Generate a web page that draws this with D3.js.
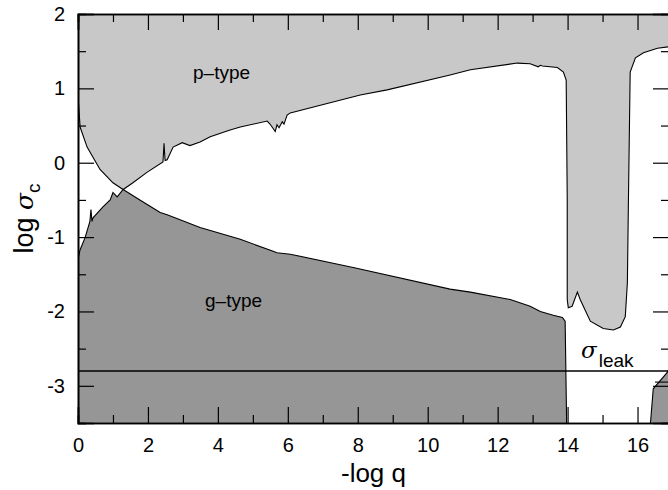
<!DOCTYPE html>
<html>
<head>
<meta charset="utf-8">
<script src="https://cdn.jsdelivr.net/npm/d3@7"></script>
<style>
  body { margin: 0; background: #fff; }
  svg { display: block; font-family: "Liberation Sans", Arial, sans-serif; }
</style>
</head>
<body>
<svg width="668" height="490"></svg>
<script>
// p-type boundary: upper edge of the white region, [-log q, log sigma_c]
const pBoundary = [
    [0, 0.9], [0.06, 0.48], [0.26, 0.21], [0.63, -0.09], [1.0, -0.27], [1.29, -0.36],
    [1.57, -0.27], [1.97, -0.13], [2.43, 0.01], [2.46, 0.26], [2.49, 0.03], [2.55, 0.04],
    [2.72, 0.21], [2.98, 0.27], [3.2, 0.23], [3.49, 0.28], [3.78, 0.35], [4.35, 0.44],
    [4.64, 0.48], [5.41, 0.56], [5.49, 0.52], [5.64, 0.42], [5.69, 0.51], [5.75, 0.47],
    [5.84, 0.55], [5.89, 0.52], [5.98, 0.64], [6.07, 0.67], [8.07, 0.91], [8.84, 0.98],
    [10.64, 1.18], [11.22, 1.25], [12.56, 1.34], [12.93, 1.33], [13.16, 1.29], [13.22, 1.31],
    [13.28, 1.30], [13.71, 1.28], [13.88, 1.22], [13.96, 1.11], [13.99, -0.5], [13.99, -1.84],
    [14.02, -1.95], [14.13, -1.93], [14.28, -1.74], [14.36, -1.84], [14.65, -2.13],
    [15.02, -2.23], [15.31, -2.25], [15.51, -2.21], [15.65, -2.07], [15.71, -1.61],
    [15.74, -0.5], [15.79, 1.22], [15.94, 1.41], [16.17, 1.48], [16.57, 1.54], [16.9, 1.56]
];

// g-type boundary: lower edge of the white region
const gBoundary = [
    [0, -1.3], [0.06, -1.17], [0.2, -1.01], [0.29, -0.87], [0.34, -0.79], [0.37, -0.63],
    [0.4, -0.79], [0.43, -0.74], [0.72, -0.59], [0.92, -0.5], [1.0, -0.4], [1.12, -0.46],
    [1.29, -0.36], [1.77, -0.5], [2.35, -0.67], [2.55, -0.7], [3.49, -0.87], [4.64, -1.03],
    [5.58, -1.19], [5.69, -1.21], [6.07, -1.23], [7.87, -1.41], [10.64, -1.7], [11.22, -1.74],
    [12.36, -1.84], [12.93, -1.93], [13.22, -2.0], [13.59, -2.05], [13.85, -2.08],
    [13.93, -2.13], [13.97, -3.41], [13.97, -3.5]
];

// second g-type patch at the right edge
const gBoundaryRight = [[16.37, -3.5], [16.45, -3.04], [16.85, -2.82], [16.9, -2.77]];
const stepLine = [[16.5, -2.95], [16.9, -2.95]];

const sigmaLeak = -2.8;

const xTicks = [0, 2, 4, 6, 8, 10, 12, 14, 16];
const yTicks = [-3, -2, -1, 0, 1, 2];

const svg = d3.select("svg");
const area = { left: 78, right: 669, top: 14, bottom: 423 };

const scX = d3.scaleLinear().domain([0, 16.9]).range([area.left, area.right]);
const scY = d3.scaleLinear().domain([-3.5, 2]).range([area.bottom, area.top]);

svg.append("clipPath").attr("id", "plot")
    .append("rect")
    .attr("x", area.left).attr("y", area.top)
    .attr("width", area.right - area.left).attr("height", area.bottom - area.top);

const plot = svg.append("g").attr("clip-path", "url(#plot)");

const areaTop = d3.area().x(d => scX(d[0])).y0(scY(2)).y1(d => scY(d[1]));
const areaBottom = d3.area().x(d => scX(d[0])).y0(scY(-3.5)).y1(d => scY(d[1]));
const line = d3.line().x(d => scX(d[0])).y(d => scY(d[1]));

plot.append("path").datum(pBoundary).attr("d", areaTop).attr("fill", "#c8c8c8");
plot.append("path").datum(gBoundary).attr("d", areaBottom).attr("fill", "#969696");
plot.append("path").datum(gBoundaryRight).attr("d", areaBottom).attr("fill", "#969696");

[pBoundary, gBoundary, gBoundaryRight, stepLine].forEach(d => {
    plot.append("path").datum(d).attr("d", line)
        .attr("fill", "none").attr("stroke", "#000").attr("stroke-width", 1.1);
});

plot.append("line")
    .attr("x1", scX(0)).attr("x2", scX(16.9))
    .attr("y1", scY(sigmaLeak)).attr("y2", scY(sigmaLeak))
    .attr("stroke", "#000").attr("stroke-width", 1.5);

// axes with inward ticks on all four sides
const minorX = d3.range(1, 17, 2);
const minorY = [-3.5, -2.5, -1.5, -0.5, 0.5, 1.5];

const axisBottom = d3.axisBottom(scX).tickValues(xTicks).tickSize(-16).tickPadding(22).tickFormat(d => String(d));
const axisLeft = d3.axisLeft(scY).tickValues(yTicks).tickSize(-16).tickPadding(28).tickFormat(d => String(d));

function styleAxis(g) {
    g.select(".domain").attr("stroke-width", 1.6);
    g.selectAll(".tick line").attr("stroke-width", 1.2);
    g.selectAll("text").attr("font-size", 20).attr("font-family", "Liberation Sans, Arial, sans-serif").attr("fill", "#000");
}

svg.append("g").attr("transform", `translate(0,${area.bottom})`).call(axisBottom).call(styleAxis)
    .call(g => g.selectAll("text").attr("dy", "0.36em"));
svg.append("g").attr("transform", `translate(${area.left},0)`).call(axisLeft).call(styleAxis)
    .call(g => g.selectAll("text").attr("x", -13));
svg.append("g").attr("transform", `translate(0,${area.top})`)
    .call(d3.axisTop(scX).tickValues(xTicks).tickSize(-16).tickFormat("")).call(styleAxis);
svg.append("g").attr("transform", `translate(${area.right},0)`)
    .call(d3.axisRight(scY).tickValues(yTicks).tickSize(-16).tickFormat("")).call(styleAxis);

svg.append("g").attr("transform", `translate(0,${area.bottom})`)
    .call(d3.axisBottom(scX).tickValues(minorX).tickSize(-8).tickFormat("")).call(styleAxis);
svg.append("g").attr("transform", `translate(0,${area.top})`)
    .call(d3.axisTop(scX).tickValues(minorX).tickSize(-8).tickFormat("")).call(styleAxis);
svg.append("g").attr("transform", `translate(${area.left},0)`)
    .call(d3.axisLeft(scY).tickValues(minorY).tickSize(-8).tickFormat("")).call(styleAxis);
svg.append("g").attr("transform", `translate(${area.right},0)`)
    .call(d3.axisRight(scY).tickValues(minorY).tickSize(-8).tickFormat("")).call(styleAxis);

// labels
svg.append("text").attr("x", 193).attr("y", 79).attr("font-size", 19).text("p\u2013type");
svg.append("text").attr("x", 205).attr("y", 307).attr("font-size", 19).text("g\u2013type");

const leak = svg.append("text").attr("x", 581).attr("y", 358);
leak.append("tspan").attr("font-size", 23).attr("font-family", "DejaVu Serif, serif").attr("font-style", "italic").text("\u03c3");
leak.append("tspan").attr("font-size", 19).attr("dy", 9).attr("dx", 2).text("leak");

svg.append("text").attr("x", (area.left + area.right) / 2).attr("y", 482)
    .attr("text-anchor", "middle").attr("font-size", 26).text("-log q");

const yl = svg.append("text")
    .attr("transform", `translate(33,${(area.top + area.bottom) / 2}) rotate(-90)`)
    .attr("text-anchor", "middle").attr("font-size", 27);
yl.append("tspan").text("log ");
yl.append("tspan").attr("font-family", "DejaVu Serif, serif").attr("font-style", "italic").attr("font-size", 25).text("\u03c3");
yl.append("tspan").attr("font-size", 19).attr("dy", 7).text("c");
</script>
</body>
</html>
